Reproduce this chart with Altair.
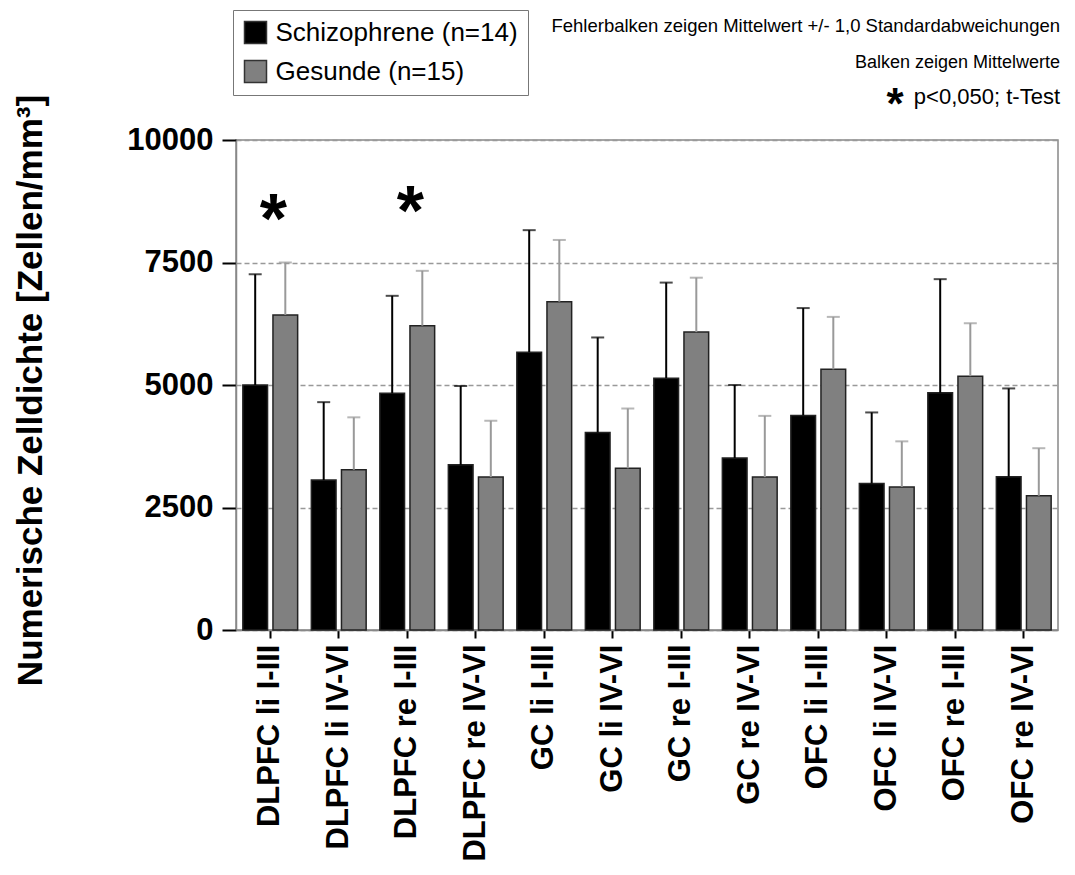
import altair as alt
import pandas as pd

regions = ["DLPFC li I-III", "DLPFC li IV-VI", "DLPFC re I-III", "DLPFC re IV-VI",
           "GC li I-III", "GC li IV-VI", "GC re I-III", "GC re IV-VI",
           "OFC li I-III", "OFC li IV-VI", "OFC re I-III", "OFC re IV-VI"]
groups = ["Schizophrene (n=14)", "Gesunde (n=15)"]
schizo_mean = [5000, 3060, 4830, 3370, 5670, 4030, 5140, 3510, 4380, 2990, 4840, 3130]
schizo_sd = [2260, 1590, 1990, 1610, 2490, 1940, 1950, 1490, 2190, 1450, 2320, 1800]
gesund_mean = [6430, 3270, 6210, 3120, 6700, 3300, 6080, 3120, 5320, 2920, 5180, 2740]
gesund_sd = [1070, 1070, 1120, 1150, 1260, 1220, 1110, 1250, 1070, 930, 1080, 970]
sig_regions = ["DLPFC li I-III", "DLPFC re I-III"]
sig_y = [8620, 8780]
y_ticks = [0, 2500, 5000, 7500, 10000]
notes = ["Fehlerbalken zeigen Mittelwert +/- 1,0 Standardabweichungen",
         "Balken zeigen Mittelwerte", "p<0,050; t-Test"]

rows = []
for i, r in enumerate(regions):
    rows.append({"region": r, "group": groups[0], "mean": schizo_mean[i], "sd": schizo_sd[i]})
    rows.append({"region": r, "group": groups[1], "mean": gesund_mean[i], "sd": gesund_sd[i]})
df = pd.DataFrame(rows)
df["top"] = df["mean"] + df["sd"]
stars = pd.DataFrame({"region": sig_regions, "y": sig_y})

FONT = "Liberation Sans"

xenc = alt.X("region:N", sort=regions, title=None,
             scale=alt.Scale(paddingInner=0.2, paddingOuter=0.1),
             axis=alt.Axis(labelAngle=-90, labelFontSize=31, labelFont=FONT,
                           labelFontWeight="bold", labelColor="black", labelLimit=400,
                           tickSize=8, tickColor="black", tickWidth=2, labelPadding=6,
                           domainColor="#888", domainWidth=1.5))
xoff = alt.XOffset("group:N", scale=alt.Scale(domain=groups, paddingInner=0.18, paddingOuter=0))
yscale = alt.Scale(domain=[0, 10000], nice=False)

base = alt.Chart(df)

bars = base.mark_bar(stroke="#222", strokeWidth=1.5).encode(
    x=xenc,
    xOffset=xoff,
    y=alt.Y("mean:Q", scale=yscale,
            title="Numerische Zelldichte [Zellen/mm³]",
            axis=alt.Axis(values=y_ticks, format="d", labelFontSize=31, labelFont=FONT,
                          labelFontWeight="bold", labelColor="black",
                          tickSize=14, tickColor="black", tickWidth=2, labelPadding=9,
                          domainColor="#888", domainWidth=1.5,
                          grid=True, gridDash=[5, 3], gridColor="#999", gridWidth=1.5,
                          titleFont=FONT, titleFontSize=35, titleFontWeight="bold",
                          titleColor="black", titleX=-195, titleY=250,
                          titleBaseline="alphabetic", titleAlign="center", titleAngle=270)),
    color=alt.Color("group:N", title=None,
                    scale=alt.Scale(domain=groups, range=["#000000", "#808080"]),
                    legend=alt.Legend(orient="none", legendX=-3, legendY=-130,
                                      symbolType="square", symbolSize=484,
                                      symbolStrokeColor="#333", symbolStrokeWidth=1.5,
                                      labelFontSize=26, labelFont=FONT, labelColor="black",
                                      strokeColor="#777", padding=9.5, rowPadding=11,
                                      labelOffset=7, labelLimit=400)),
)

err_layers = []
for g, col in zip(groups, ["#000000", "#999999"]):
    sub = base.transform_filter(alt.datum.group == g)
    rule = sub.mark_rule(strokeWidth=2, color=col).encode(
        x=alt.X("region:N", sort=regions), xOffset=xoff,
        y=alt.Y("mean:Q", scale=yscale), y2="top:Q")
    cap = sub.mark_tick(size=13, thickness=2, color=col).encode(
        x=alt.X("region:N", sort=regions), xOffset=xoff,
        y=alt.Y("top:Q", scale=yscale))
    err_layers += [rule, cap]

star_marks = alt.Chart(stars).mark_text(
    text="*", font=FONT, fontWeight="bold", fontSize=70, dy=14, dx=3, color="black"
).encode(x=alt.X("region:N", sort=regions), y=alt.Y("y:Q", scale=yscale))

note_df = pd.DataFrame({"t": notes})
note_layers = []
for t, yy, fs in zip(notes, [-114, -77, -43], [18.5, 18, 22]):
    note_layers.append(
        alt.Chart(note_df).transform_filter(alt.datum.t == t).mark_text(
            align="right", baseline="middle", font=FONT, fontSize=fs, color="black"
        ).encode(x=alt.value(824), y=alt.value(yy), text="t:N"))
note_star = alt.Chart(note_df).transform_filter(alt.datum.t == notes[2]).mark_text(
    text="*", font=FONT, fontWeight="bold", fontSize=44, align="center",
    baseline="alphabetic", color="black"
).encode(x=alt.value(659), y=alt.value(-21))

chart = alt.layer(bars, *err_layers, star_marks, *note_layers, note_star).properties(
    width=822, height=490,
    autosize=alt.AutoSizeParams(type="none"),
    padding={"left": 236, "top": 140, "right": 17, "bottom": 245},
).configure_view(stroke="#888", strokeWidth=1.5)

chart.save("out.html", embed_options={"renderer": "svg", "actions": False})
